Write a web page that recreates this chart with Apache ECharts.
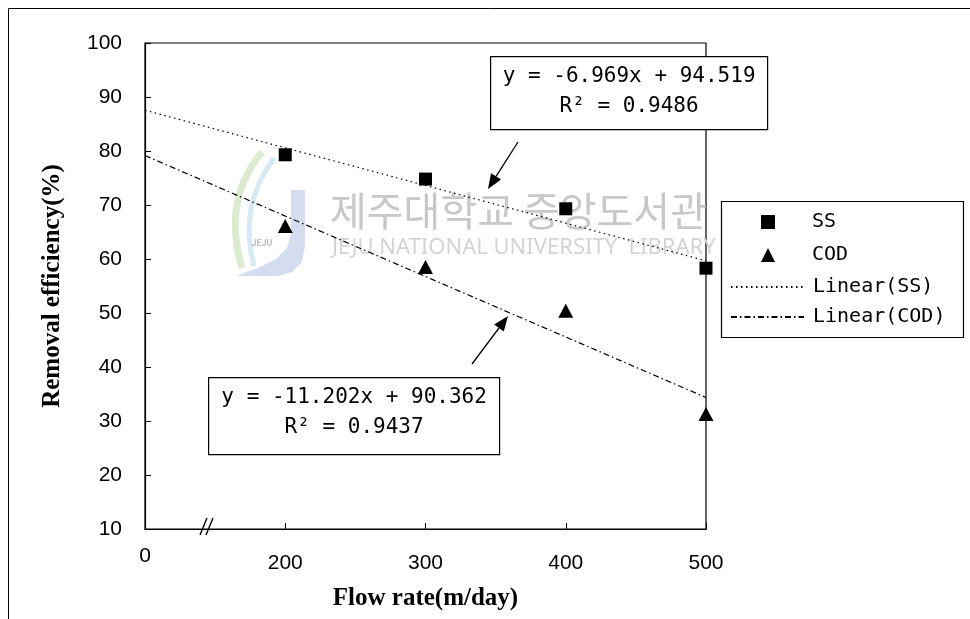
<!DOCTYPE html>
<html>
<head>
<meta charset="utf-8">
<script src="https://cdn.jsdelivr.net/npm/echarts@6/dist/echarts.min.js"></script>
<style>
  html, body { margin: 0; padding: 0; background: #fff; }
  #chart { width: 970px; height: 619px; }
</style>
</head>
<body>
<div id="chart"></div>
<script>
// Flow rate categories (m/day); the first slot is the axis origin.
const flowRates = ['0', '200', '300', '400', '500'];
// Removal efficiency (%) per flow rate
const ssRemoval  = [null, 79.3, 74.8, 69.3, 58.3];
const codRemoval = [null, 66.1, 58.5, 50.4, 31.3];
// Linear fits, x counted as category position 1..5: [slope, intercept]
const ssFit  = [-6.969, 94.519];
const codFit = [-11.202, 90.362];
const ssR2  = '0.9486';
const codR2 = '0.9437';
// Value axis range and step
const yMin = 10, yMax = 100, yStep = 10;

const tickFont = "'Liberation Sans', Arial, sans-serif";
const monoFont = "'DejaVu Sans Mono', 'Liberation Mono', monospace";
const titleFont = "'Liberation Serif', 'Times New Roman', serif";

// Straight trend line across the whole category range, from its end points.
function fitLine(fit) {
  const last = flowRates.length - 1;
  return flowRates.map((_, i) => (i === 0 || i === last) ? +(fit[0] * (i + 1) + fit[1]).toFixed(3) : null);
}

function eqText(fit) {
  const sign = fit[1] >= 0 ? '+' : '-';
  return 'y = ' + fit[0] + 'x ' + sign + ' ' + Math.abs(fit[1]);
}

// Arrow from (x1,y1) to tip (x2,y2)
function arrow(x1, y1, x2, y2) {
  const dx = x2 - x1, dy = y2 - y1, len = Math.hypot(dx, dy);
  const ux = dx / len, uy = dy / len;
  const hl = 15, hw = 6;
  const bx = x2 - ux * hl, by = y2 - uy * hl;
  return [
    { type: 'line', shape: { x1: x1, y1: y1, x2: bx, y2: by }, style: { stroke: '#000', lineWidth: 1.3 }, z: 10 },
    { type: 'polygon', shape: { points: [[x2, y2], [bx - uy * hw, by + ux * hw], [bx + uy * hw, by - ux * hw]] }, style: { fill: '#000' }, z: 10 }
  ];
}

function eqBox(left, top, width, height, fit, r2) {
  return {
    type: 'group', left: left, top: top, z: 10,
    children: [
      { type: 'rect', shape: { x: 0, y: 0, width: width, height: height }, style: { fill: '#fff', stroke: '#000', lineWidth: 1.2 } },
      { type: 'text', x: width / 2, y: 20, style: { text: eqText(fit), font: '21px ' + monoFont, fill: '#000', align: 'center', verticalAlign: 'middle' } },
      { type: 'text', x: width / 2, y: 50, style: { text: 'R\u00b2 = ' + r2, font: '21px ' + monoFont, fill: '#000', align: 'center', verticalAlign: 'middle' } }
    ]
  };
}

const legendText = { fontFamily: monoFont, fontSize: 20, color: '#000', lineHeight: 20 };

const chart = echarts.init(document.getElementById('chart'), null, { renderer: 'canvas' });

const option = {
  backgroundColor: '#fff',
  animation: false,
  grid: {
    left: 145, right: 264, top: 43, bottom: 90,
    show: true, borderColor: '#000', borderWidth: 1.2, backgroundColor: 'transparent'
  },
  legend: [
    {
      // marker entries
      orient: 'vertical',
      left: 761, top: 212,
      padding: 0,
      itemGap: 13,
      itemWidth: 14, itemHeight: 14,
      textStyle: Object.assign({ padding: [0, 0, 0, 32] }, legendText),
      data: ['SS', 'COD']
    },
    {
      // trend line entries
      orient: 'vertical',
      left: 730, top: 277,
      padding: 0,
      itemGap: 10,
      itemWidth: 73, itemHeight: 14,
      itemStyle: { opacity: 0 },
      textStyle: Object.assign({ padding: [0, 0, 0, 4] }, legendText),
      data: ['Linear(SS)', 'Linear(COD)']
    }
  ],
  xAxis: {
    type: 'category',
    data: flowRates,
    boundaryGap: false,
    name: 'Flow rate(m/day)',
    nameLocation: 'middle',
    nameGap: 57,
    nameTextStyle: { fontFamily: titleFont, fontWeight: 'bold', fontSize: 25, color: '#000', verticalAlign: 'top' },
    axisLine: { lineStyle: { color: '#000', width: 1.2 } },
    axisTick: { inside: true, length: 6, lineStyle: { color: '#000' } },
    axisLabel: {
      margin: 17,
      formatter: v => v === flowRates[0] ? '{o|' + v + '}' : '{n|' + v + '}',
      rich: {
        o: { fontFamily: tickFont, fontSize: 21, color: '#000', lineHeight: 20 },
        n: { fontFamily: tickFont, fontSize: 21, color: '#000', lineHeight: 34 }
      }
    },
    splitLine: { show: false }
  },
  yAxis: {
    type: 'value',
    min: yMin, max: yMax, interval: yStep,
    name: 'Removal efficiency(%)',
    nameLocation: 'middle',
    nameGap: 80,
    nameRotate: 90,
    nameTextStyle: { fontFamily: titleFont, fontWeight: 'bold', fontSize: 25, color: '#000' },
    axisLine: { show: true, lineStyle: { color: '#000', width: 1.2 } },
    axisTick: { show: true, inside: true, length: 6, lineStyle: { color: '#000' } },
    axisLabel: { margin: 23, fontFamily: tickFont, fontSize: 21, color: '#000' },
    splitLine: { show: false }
  },
  series: [
    {
      name: 'SS', type: 'scatter', data: ssRemoval,
      symbol: 'rect', symbolSize: 13, itemStyle: { color: '#000', opacity: 1 }, z: 5
    },
    {
      name: 'COD', type: 'scatter', data: codRemoval,
      symbol: 'triangle', symbolSize: [15, 14], itemStyle: { color: '#000', opacity: 1 }, z: 5
    },
    {
      name: 'Linear(SS)', type: 'line', data: fitLine(ssFit), connectNulls: true,
      symbol: 'none', lineStyle: { color: '#000', width: 1.2, type: [1.5, 3.5] },
      itemStyle: { color: '#000' }, z: 3
    },
    {
      name: 'Linear(COD)', type: 'line', data: fitLine(codFit), connectNulls: true,
      symbol: 'none', lineStyle: { color: '#000', width: 1.2, type: [6, 3, 1.5, 3] },
      itemStyle: { color: '#000' }, z: 3
    }
  ],
  graphic: [
    // outer frame
    { type: 'line', shape: { x1: 8.5, y1: 8.5, x2: 970, y2: 8.5 }, style: { stroke: '#000', lineWidth: 1 } },
    { type: 'line', shape: { x1: 8.5, y1: 8.5, x2: 8.5, y2: 619 }, style: { stroke: '#000', lineWidth: 1 } },
    // legend frame
    { type: 'rect', shape: { x: 721.5, y: 201.5, width: 242, height: 136 }, style: { fill: '#fff', stroke: '#000', lineWidth: 1.2 }, z: 1 },
    // library watermark
    { type: 'polygon', shape: { points: [[291, 190], [305, 190], [305, 246], [302, 262], [292, 272], [278, 276], [236, 276], [258, 268], [276, 259], [287, 248], [291, 234]] }, style: { fill: '#d3ddef' }, z: 0 },
    { type: 'bezierCurve', shape: { x1: 262, y1: 152, cpx1: 222, cpy1: 200, x2: 242, y2: 268 }, style: { stroke: '#dcebd0', lineWidth: 7, fill: null }, z: 0 },
    { type: 'bezierCurve', shape: { x1: 274, y1: 158, cpx1: 238, cpy1: 206, x2: 254, y2: 266 }, style: { stroke: '#d6eaf4', lineWidth: 5, fill: null }, z: 0 },
    { type: 'text', x: 262, y: 244, style: { text: 'JEJU', font: 'bold 9px Roboto, sans-serif', fill: '#c0c0c0', align: 'center', verticalAlign: 'middle' }, z: 0 },
    { type: 'text', x: 330, y: 211, style: { text: '제주대학교 중앙도서관', font: '40px "Noto Sans CJK KR", sans-serif', fill: '#c8c8c8', verticalAlign: 'middle' }, z: 0 },
    { type: 'text', x: 332, y: 248, style: { text: 'JEJU NATIONAL UNIVERSITY  LIBRARY', font: '22px "Noto Sans", sans-serif', fill: '#d4d4d4', verticalAlign: 'middle' }, z: 0 },
    // axis break mark
    { type: 'line', shape: { x1: 200, y1: 535, x2: 207, y2: 518 }, style: { stroke: '#000', lineWidth: 1.4 }, z: 10 },
    { type: 'line', shape: { x1: 206, y1: 535, x2: 213, y2: 518 }, style: { stroke: '#000', lineWidth: 1.4 }, z: 10 },
    // fit equations
    eqBox(490, 56, 277, 73, ssFit, ssR2),
    eqBox(208, 377, 291, 77, codFit, codR2)
  ].concat(arrow(518, 142, 488, 189), arrow(472, 364, 508, 316))
};

chart.setOption(option);
</script>
</body>
</html>
